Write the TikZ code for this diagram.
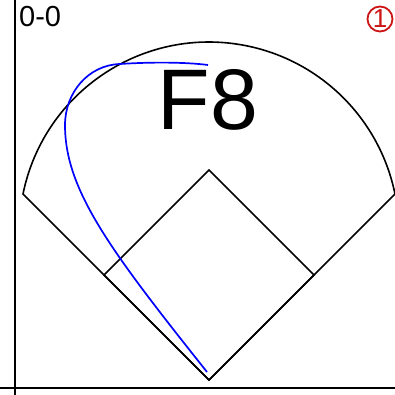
\documentclass[tikz,border=0pt]{standalone}
\usepackage{fontspec}
\setmainfont{Liberation Sans}
\definecolor{circred}{RGB}{204,20,20}
\begin{document}
\begin{tikzpicture}[x=1pt,y=-1pt,
  field/.style={line width=1.6pt,black,line join=miter},
  axis/.style={line width=2pt,black},
  hit/.style={line width=1.7pt,blue}]
\useasboundingbox (0,0) rectangle (395,395);
% axes
\coordinate (vtop) at (15,0);
\coordinate (vbot) at (15,395);
\coordinate (hl) at (0,388);
\coordinate (hr) at (395,388);
\draw[axis] (vtop) -- (vbot);
\draw[axis] (hl) -- (hr);
% field
\coordinate (home) at (209,380);
\coordinate (lf) at (23,194);
\coordinate (rf) at (395,194);
\coordinate (third) at (104,275);
\coordinate (second) at (209,170);
\coordinate (first) at (314,275);
\draw[field] (rf) -- (home) -- (lf) arc[start angle=191.5, end angle=348.5, radius=189.8];
\draw[field] (home) -- (third) -- (second) -- (first) -- cycle;
% ball path
\coordinate (bstart) at (207,372);
\coordinate (bmid) at (65,125);
\coordinate (btop) at (120,64);
\coordinate (bend) at (208,65);
\draw[hit] (bstart) .. controls (110,250) and (65,190) .. (bmid)
  .. controls (65,93) and (88,65) .. (btop)
  .. controls (150,62) and (185,62) .. (bend);
% texts
\node[anchor=base, inner sep=0pt, font=\fontsize{86}{86}\selectfont] (f8) at (208,130) {F8};
\node[anchor=base west, inner sep=0pt, font=\fontsize{29}{29}\selectfont] (score) at (19,27) {0-0};
\node[circle, draw=circred, line width=1.8pt, text=circred, minimum size=25pt, inner sep=0pt,
  font=\fontsize{26}{26}\selectfont] (num) at (380,19) {1};
\end{tikzpicture}
\end{document}
